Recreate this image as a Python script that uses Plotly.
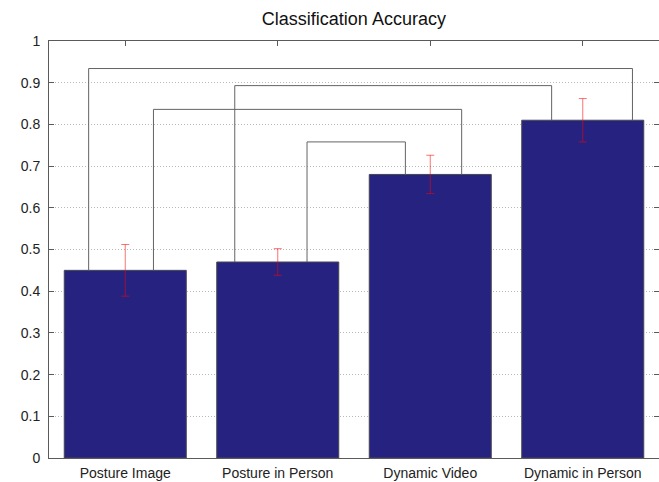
import plotly.graph_objects as go

categories = ["Posture Image", "Posture in Person", "Dynamic Video", "Dynamic in Person"]
accuracy = [0.45, 0.47, 0.68, 0.81]
error = [0.062, 0.032, 0.046, 0.052]

# significance brackets: (left bar index, right bar index), leg offsets, bracket height
bracket_left = [0, 0, 1, 1]
bracket_right = [3, 2, 3, 2]
bracket_left_offset = [-0.24, 0.185, -0.282, 0.192]
bracket_right_offset = [0.326, 0.206, -0.204, -0.163]
bracket_height = [0.934, 0.836, 0.893, 0.758]

y_ticks = [round(i * 0.1, 1) for i in range(11)]

xs = [i + 1 for i in range(len(categories))]

fig = go.Figure()
fig.add_trace(go.Bar(
    x=xs, y=accuracy, width=0.8,
    marker=dict(color="rgb(38,35,128)", line=dict(color="rgb(70,70,80)", width=1)),
    error_y=dict(type="data", array=error, color="rgba(255,0,0,0.55)", thickness=1, width=4),
    showlegend=False, hoverinfo="skip",
))

for li, ri, lo, ro, h in zip(bracket_left, bracket_right, bracket_left_offset, bracket_right_offset, bracket_height):
    x0 = xs[li] + lo
    x1 = xs[ri] + ro
    fig.add_trace(go.Scatter(
        x=[x0, x0, x1, x1], y=[accuracy[li], h, h, accuracy[ri]],
        mode="lines", line=dict(color="rgb(100,100,100)", width=1),
        showlegend=False, hoverinfo="skip",
    ))

# invisible trace on top axis to render top ticks
fig.add_trace(go.Scatter(x=xs, y=accuracy, xaxis="x2", mode="markers",
                         marker=dict(opacity=0), showlegend=False, hoverinfo="skip"))

font_family = "Liberation Sans, Arial, sans-serif"

fig.update_layout(
    width=659, height=482,
    margin=dict(l=49, r=0, t=41, b=24),
    paper_bgcolor="white", plot_bgcolor="white",
    title=dict(text="Classification Accuracy", x=0.537, xanchor="center", y=0.962, yanchor="middle",
               font=dict(family=font_family, size=18, color="#111")),
    xaxis=dict(range=[0.5, 4.5], tickvals=xs, ticktext=categories, ticks="",
               showline=True, linecolor="rgb(90,90,90)", linewidth=1, mirror=True,
               showgrid=False, zeroline=False, ticklabelstandoff=2,
               tickfont=dict(family=font_family, size=14, color="#222"), fixedrange=True),
    xaxis2=dict(range=[0.5, 4.5], overlaying="x", side="top", tickvals=xs,
                showticklabels=False, ticks="inside", ticklen=5, tickcolor="rgb(90,90,90)",
                showline=False, showgrid=False, zeroline=False),
    yaxis=dict(range=[0, 1], tickvals=y_ticks, ticks="inside", ticklen=5,
               tickcolor="rgb(90,90,90)", showline=True, linecolor="rgb(90,90,90)", linewidth=1,
               mirror="ticks", showgrid=True, gridcolor="rgb(185,185,185)", griddash="1px,2px",
               gridwidth=1, zeroline=False, ticklabelstandoff=5,
               tickfont=dict(family=font_family, size=14, color="#222")),
)

fig.write_html("out.html", config={"displayModeBar": False},
               post_script="document.body.style.margin='0';document.body.style.overflow='hidden';")
